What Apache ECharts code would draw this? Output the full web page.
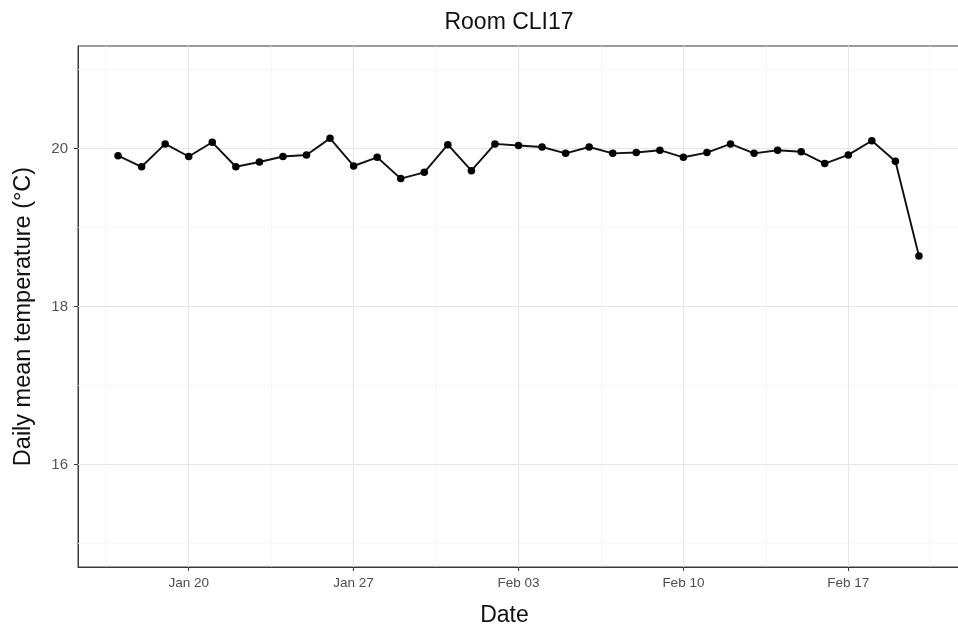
<!DOCTYPE html>
<html>
<head>
<meta charset="utf-8">
<title>Room CLI17</title>
<script src="https://cdn.jsdelivr.net/npm/echarts@6/dist/echarts.min.js"></script>
<style>
  html, body { margin: 0; padding: 0; background: #ffffff; overflow: hidden; }
  #chart { width: 961px; height: 633px; }
</style>
</head>
<body>
<div id="chart"></div>
<script>
// Daily mean temperature readings for room CLI17
const dates = [
  '2021-01-17', '2021-01-18', '2021-01-19', '2021-01-20', '2021-01-21',
  '2021-01-22', '2021-01-23', '2021-01-24', '2021-01-25', '2021-01-26',
  '2021-01-27', '2021-01-28', '2021-01-29', '2021-01-30', '2021-01-31',
  '2021-02-01', '2021-02-02', '2021-02-03', '2021-02-04', '2021-02-05',
  '2021-02-06', '2021-02-07', '2021-02-08', '2021-02-09', '2021-02-10',
  '2021-02-11', '2021-02-12', '2021-02-13', '2021-02-14', '2021-02-15',
  '2021-02-16', '2021-02-17', '2021-02-18', '2021-02-19', '2021-02-20'
];
const temps = [
  19.91, 19.77, 20.06, 19.90, 20.08,
  19.77, 19.83, 19.90, 19.92, 20.13,
  19.78, 19.89, 19.62, 19.70, 20.05,
  19.72, 20.06, 20.04, 20.02, 19.94,
  20.02, 19.94, 19.95, 19.98, 19.89,
  19.95, 20.06, 19.94, 19.98, 19.96,
  19.81, 19.92, 20.10, 19.84, 18.64
];

// Axis ticks and labels
const xTickDates = ['2021-01-20', '2021-01-27', '2021-02-03', '2021-02-10', '2021-02-17'];
const xTickLabels = ['Jan 20', 'Jan 27', 'Feb 03', 'Feb 10', 'Feb 17'];
const xMinorDates = ['2021-01-16T12', '2021-01-23T12', '2021-01-30T12', '2021-02-06T12', '2021-02-13T12', '2021-02-20T12'];
const yTicks = [16, 18, 20];
const yMinorTicks = [15, 17, 19, 21];

const DAY = 86400000;
function toTime(s) {
  const [d, h] = s.split('T');
  const [y, m, dd] = d.split('-').map(Number);
  return Date.UTC(y, m - 1, dd, h ? Number(h) : 0);
}

// date range padded by 5% on each side
const xMin = toTime('2021-01-15') + 0.3 * DAY;
const xMax = toTime('2021-02-21') + 0.7 * DAY;
const xTickTimes = xTickDates.map(toTime);
const labelByTime = {};
xTickTimes.forEach((t, i) => { labelByTime[t] = xTickLabels[i]; });

const FONT = '"Liberation Sans", Arial, Helvetica, sans-serif';
const gridMajor = { color: '#e6e6e6', width: 1, type: 'solid' };
const gridMinor = { color: '#f3f3f3', width: 0.7, type: 'solid' };

const gridLines = []
  .concat(xMinorDates.map(s => ({ xAxis: toTime(s), lineStyle: gridMinor })))
  .concat(yMinorTicks.map(v => ({ yAxis: v, lineStyle: gridMinor })))
  .concat(xTickTimes.map(t => ({ xAxis: t, lineStyle: gridMajor })))
  .concat(yTicks.map(v => ({ yAxis: v, lineStyle: gridMajor })));

const chart = echarts.init(document.getElementById('chart'), null, { renderer: 'canvas' });

chart.setOption({
  animation: false,
  backgroundColor: '#ffffff',
  textStyle: { fontFamily: FONT },
  title: {
    text: 'Room CLI17',
    left: 504,
    top: 6,
    textAlign: 'center',
    textStyle: { fontFamily: FONT, fontSize: 23, fontWeight: 'normal', color: '#111111' }
  },
  grid: {
    left: 78,
    right: 2,
    top: 46,
    bottom: 66,
    show: true,
    borderColor: '#3a3a3a',
    borderWidth: 1,
    backgroundColor: '#ffffff'
  },
  xAxis: {
    type: 'value',
    min: xMin,
    max: xMax,
    name: 'Date',
    nameLocation: 'middle',
    nameGap: 37,
    nameTextStyle: { fontFamily: FONT, fontSize: 23, color: '#111111', padding: [0, 28, 0, 0] },
    axisLine: { show: true, lineStyle: { color: '#3a3a3a', width: 1 } },
    axisTick: { show: true, length: 4, customValues: xTickTimes, lineStyle: { color: '#3a3a3a', width: 1 } },
    axisLabel: {
      customValues: xTickTimes,
      margin: 9,
      fontSize: 13.5,
      color: '#4d4d4d',
      fontFamily: FONT,
      formatter: v => labelByTime[v] || ''
    },
    splitLine: { show: false }
  },
  yAxis: {
    type: 'value',
    min: 14.7,
    max: 21.3,
    name: 'Daily mean temperature (°C)',
    nameLocation: 'middle',
    nameRotate: 90,
    nameGap: 42,
    nameTextStyle: { fontFamily: FONT, fontSize: 23.5, color: '#111111', padding: [0, 20, 0, 0] },
    axisLine: { show: true, lineStyle: { color: '#3a3a3a', width: 1 } },
    axisTick: { show: true, length: 4, customValues: yTicks, lineStyle: { color: '#3a3a3a', width: 1 } },
    axisLabel: {
      customValues: yTicks,
      margin: 10,
      fontSize: 15,
      color: '#555555',
      fontFamily: FONT
    },
    splitLine: { show: false }
  },
  series: [
    {
      // background grid (major and minor lines)
      type: 'line',
      data: [],
      z: 1,
      silent: true,
      markLine: {
        silent: true,
        symbol: ['none', 'none'],
        label: { show: false },
        animation: false,
        data: gridLines
      }
    },
    {
      name: 'Temperature',
      type: 'line',
      z: 5,
      data: dates.map((d, i) => [toTime(d), temps[i]]),
      symbol: 'circle',
      symbolSize: 7.5,
      itemStyle: { color: '#000000' },
      lineStyle: { color: '#111111', width: 1.9 }
    }
  ]
});
</script>
</body>
</html>
